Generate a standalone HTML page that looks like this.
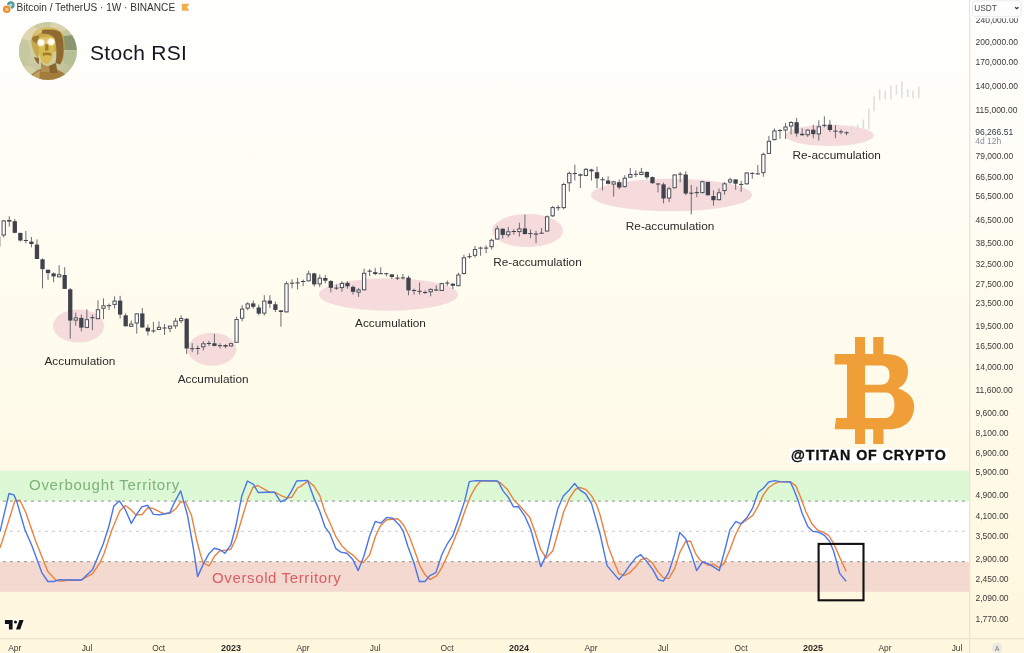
<!DOCTYPE html>
<html><head><meta charset="utf-8">
<style>
html,body{margin:0;padding:0;}
body{width:1024px;height:653px;overflow:hidden;position:relative;
background:linear-gradient(180deg,#fefefd 0px,#fffcef 300px,#fff7de 653px);
font-family:"Liberation Sans",Arial,sans-serif;}
svg{position:absolute;left:0;top:0;will-change:transform;}
.w{stroke:#6a6c73;stroke-width:1;}
.cd{fill:#40434c;}
.cu{fill:#ffffff;stroke:#4d5058;stroke-width:1;}
.px text{font-size:8.5px;fill:#3a3a3a;}
.tx text{font-size:8.4px;fill:#3a3a3a;}
.tx text.yr{font-weight:bold;font-size:9px;fill:#2b2b2b;}
.lbl{font-size:11.8px;fill:#2b2b2b;}
</style></head>
<body>
<svg width="1024" height="653" viewBox="0 0 1024 653">
<defs>
<filter id="soft" x="-10%" y="-10%" width="120%" height="120%"><feGaussianBlur stdDeviation="0.7"/></filter>
<clipPath id="av"><circle cx="47.9" cy="51" r="29"/></clipPath>
<radialGradient id="avbg" cx="0.4" cy="0.4" r="0.7"><stop offset="0" stop-color="#dcd6ae"/><stop offset="1" stop-color="#b9bd93"/></radialGradient>
<radialGradient id="eye"><stop offset="0" stop-color="#ffffff"/><stop offset="0.55" stop-color="#fffef0"/><stop offset="1" stop-color="#fff8c0" stop-opacity="0"/></radialGradient>
</defs>

<!-- stoch rsi bands -->
<rect x="0" y="470.8" width="969" height="30.2" fill="#dcf8d5"/>
<rect x="0" y="501" width="969" height="60.8" fill="#ffffff"/>
<rect x="0" y="561.8" width="969" height="30" fill="#f3d9cf"/>
<g stroke-dasharray="2.9 4.1" stroke-dashoffset="4">
<line x1="0" y1="501.2" x2="969" y2="501.2" stroke="#a4a6a4" stroke-width="1.25"/>
<line x1="0" y1="531.3" x2="969" y2="531.3" stroke="#d4d4d4" stroke-width="1.2"/>
<line x1="0" y1="561.6" x2="969" y2="561.6" stroke="#a4a6a4" stroke-width="1.25"/>
</g>
<text x="29" y="489.6" font-size="15" letter-spacing="0.72" fill="#7fb27a">Overbought Territory</text>
<text x="212" y="582.8" font-size="15" letter-spacing="0.63" fill="#de5c63">Oversold Territory</text>

<!-- ellipses -->
<g fill="#f5d5d8" fill-opacity="0.85">
<ellipse cx="78.5" cy="326" rx="25.5" ry="16.5"/>
<ellipse cx="212" cy="349.3" rx="24.4" ry="16.5"/>
<ellipse cx="388.5" cy="294.5" rx="69.5" ry="16.3"/>
<ellipse cx="527.5" cy="230.6" rx="35.5" ry="16.5"/>
<ellipse cx="671.5" cy="195" rx="80.5" ry="16.3"/>
<ellipse cx="829.6" cy="135.4" rx="44.1" ry="10.7"/>
</g>

<!-- ghost projection -->
<g stroke="#dedede" stroke-width="1.6">
<line x1="851.9" y1="125.8" x2="851.9" y2="135.2"/>
<line x1="857.7" y1="124.7" x2="857.7" y2="130"/>
<line x1="863.3" y1="119.5" x2="863.3" y2="128.1"/>
<line x1="868.8" y1="108.6" x2="868.8" y2="128.9"/>
<line x1="874.1" y1="96.1" x2="874.1" y2="111.3"/>
<line x1="879.7" y1="89.4" x2="879.7" y2="100"/>
<line x1="885.2" y1="90.6" x2="885.2" y2="99.2"/>
<line x1="890.9" y1="85.6" x2="890.9" y2="99.2"/>
<line x1="896.4" y1="84.7" x2="896.4" y2="95"/>
<line x1="901.9" y1="81.6" x2="901.9" y2="97.7"/>
<line x1="907.7" y1="89.1" x2="907.7" y2="96.9"/>
<line x1="913.1" y1="90.6" x2="913.1" y2="98.4"/>
<line x1="918.8" y1="86.7" x2="918.8" y2="98.1"/>
</g>

<!-- candles -->
<g>
<line x1="-1.84" y1="236.0" x2="-1.84" y2="246.4" class="w"/>
<rect x="-3.49" y="236.9" width="3.3" height="9.0" class="cu"/>
<line x1="3.70" y1="219.8" x2="3.70" y2="237.5" class="w"/>
<rect x="2.05" y="220.9" width="3.3" height="14.1" class="cu"/>
<line x1="9.25" y1="216.3" x2="9.25" y2="226.6" class="w"/>
<rect x="7.10" y="220.0" width="4.3" height="1.6" class="cd"/>
<line x1="14.79" y1="219.0" x2="14.79" y2="233.3" class="w"/>
<rect x="12.64" y="221.2" width="4.3" height="11.6" class="cd"/>
<line x1="20.34" y1="232.7" x2="20.34" y2="241.5" class="w"/>
<rect x="18.19" y="232.9" width="4.3" height="7.6" class="cd"/>
<line x1="25.88" y1="230.9" x2="25.88" y2="243.4" class="w"/>
<rect x="23.73" y="240.0" width="4.3" height="1.0" class="cd"/>
<line x1="31.42" y1="237.0" x2="31.42" y2="247.4" class="w"/>
<rect x="29.27" y="241.6" width="4.3" height="2.4" class="cd"/>
<line x1="36.97" y1="239.4" x2="36.97" y2="259.0" class="w"/>
<rect x="34.82" y="244.6" width="4.3" height="14.4" class="cd"/>
<line x1="42.52" y1="258.4" x2="42.52" y2="288.4" class="w"/>
<rect x="40.37" y="259.3" width="4.3" height="9.8" class="cd"/>
<line x1="48.06" y1="269.4" x2="48.06" y2="279.9" class="w"/>
<rect x="45.91" y="269.8" width="4.3" height="3.3" class="cd"/>
<line x1="53.61" y1="272.3" x2="53.61" y2="282.3" class="w"/>
<rect x="51.46" y="273.4" width="4.3" height="3.0" class="cd"/>
<line x1="59.15" y1="265.2" x2="59.15" y2="277.0" class="w"/>
<rect x="57.50" y="274.7" width="3.3" height="2.2" class="cu"/>
<line x1="64.69" y1="267.2" x2="64.69" y2="288.9" class="w"/>
<rect x="62.54" y="275.0" width="4.3" height="13.9" class="cd"/>
<line x1="70.24" y1="288.0" x2="70.24" y2="338.7" class="w"/>
<rect x="68.09" y="289.3" width="4.3" height="31.2" class="cd"/>
<line x1="75.78" y1="312.7" x2="75.78" y2="325.7" class="w"/>
<rect x="74.13" y="317.9" width="3.3" height="2.2" class="cu"/>
<line x1="81.33" y1="314.6" x2="81.33" y2="331.5" class="w"/>
<rect x="79.18" y="317.9" width="4.3" height="9.7" class="cd"/>
<line x1="86.88" y1="309.4" x2="86.88" y2="328.3" class="w"/>
<rect x="85.22" y="319.7" width="3.3" height="7.7" class="cu"/>
<line x1="92.42" y1="314.6" x2="92.42" y2="330.2" class="w"/>
<rect x="90.27" y="317.2" width="4.3" height="1" class="cd"/>
<line x1="97.97" y1="300.3" x2="97.97" y2="319.2" class="w"/>
<rect x="96.31" y="309.7" width="3.3" height="9.0" class="cu"/>
<line x1="103.51" y1="298.4" x2="103.51" y2="319.2" class="w"/>
<rect x="101.86" y="305.8" width="3.3" height="2.5" class="cu"/>
<line x1="109.06" y1="303.6" x2="109.06" y2="310.1" class="w"/>
<rect x="106.91" y="305.2" width="4.3" height="1" class="cd"/>
<line x1="114.60" y1="296.4" x2="114.60" y2="308.4" class="w"/>
<rect x="112.95" y="301.1" width="3.3" height="3.3" class="cu"/>
<line x1="120.14" y1="295.8" x2="120.14" y2="318.5" class="w"/>
<rect x="117.99" y="300.6" width="4.3" height="14.0" class="cd"/>
<line x1="125.69" y1="313.3" x2="125.69" y2="326.3" class="w"/>
<rect x="123.54" y="315.3" width="4.3" height="11.0" class="cd"/>
<line x1="131.23" y1="320.5" x2="131.23" y2="326.5" class="w"/>
<rect x="129.58" y="324.1" width="3.3" height="2.2" class="cu"/>
<line x1="136.78" y1="313.4" x2="136.78" y2="333.6" class="w"/>
<rect x="135.13" y="313.9" width="3.3" height="9.1" class="cu"/>
<line x1="142.32" y1="308.2" x2="142.32" y2="327.5" class="w"/>
<rect x="140.17" y="313.4" width="4.3" height="14.1" class="cd"/>
<line x1="147.87" y1="324.5" x2="147.87" y2="335.5" class="w"/>
<rect x="145.72" y="327.7" width="4.3" height="3.7" class="cd"/>
<line x1="153.41" y1="321.9" x2="153.41" y2="332.9" class="w"/>
<rect x="151.26" y="330.4" width="4.3" height="1" class="cd"/>
<line x1="158.96" y1="321.2" x2="158.96" y2="329.7" class="w"/>
<rect x="157.31" y="327.3" width="3.3" height="2.2" class="cu"/>
<line x1="164.50" y1="324.0" x2="164.50" y2="334.9" class="w"/>
<rect x="162.35" y="327.5" width="4.3" height="1" class="cd"/>
<line x1="170.05" y1="326.4" x2="170.05" y2="332.3" class="w"/>
<rect x="168.40" y="326.1" width="3.3" height="2.2" class="cu"/>
<line x1="175.59" y1="318.0" x2="175.59" y2="328.8" class="w"/>
<rect x="173.94" y="321.1" width="3.3" height="4.8" class="cu"/>
<line x1="181.14" y1="315.4" x2="181.14" y2="323.2" class="w"/>
<rect x="179.49" y="318.5" width="3.3" height="2.2" class="cu"/>
<line x1="186.69" y1="318.0" x2="186.69" y2="354.0" class="w"/>
<rect x="184.53" y="318.8" width="4.3" height="29.7" class="cd"/>
<line x1="192.23" y1="343.3" x2="192.23" y2="352.2" class="w"/>
<rect x="190.08" y="348.2" width="4.3" height="1" class="cd"/>
<line x1="197.78" y1="345.5" x2="197.78" y2="354.6" class="w"/>
<rect x="195.62" y="348.0" width="4.3" height="1" class="cd"/>
<line x1="203.32" y1="341.3" x2="203.32" y2="350.5" class="w"/>
<rect x="201.67" y="343.8" width="3.3" height="3.0" class="cu"/>
<line x1="208.87" y1="340.8" x2="208.87" y2="345.9" class="w"/>
<rect x="206.72" y="343.0" width="4.3" height="1" class="cd"/>
<line x1="214.41" y1="334.0" x2="214.41" y2="346.3" class="w"/>
<rect x="212.26" y="343.3" width="4.3" height="2.6" class="cd"/>
<line x1="219.96" y1="343.3" x2="219.96" y2="348.5" class="w"/>
<rect x="217.81" y="345.2" width="4.3" height="1" class="cd"/>
<line x1="225.50" y1="344.3" x2="225.50" y2="348.2" class="w"/>
<rect x="223.35" y="345.1" width="4.3" height="1.5" class="cd"/>
<line x1="231.04" y1="342.8" x2="231.04" y2="346.5" class="w"/>
<rect x="229.39" y="343.7" width="3.3" height="2.2" class="cu"/>
<line x1="236.59" y1="316.7" x2="236.59" y2="342.8" class="w"/>
<rect x="234.94" y="319.5" width="3.3" height="22.8" class="cu"/>
<line x1="242.13" y1="305.2" x2="242.13" y2="321.3" class="w"/>
<rect x="240.48" y="309.1" width="3.3" height="9.1" class="cu"/>
<line x1="247.68" y1="302.2" x2="247.68" y2="310.2" class="w"/>
<rect x="246.03" y="303.9" width="3.3" height="4.2" class="cu"/>
<line x1="253.22" y1="300.5" x2="253.22" y2="308.8" class="w"/>
<rect x="251.07" y="303.4" width="4.3" height="3.4" class="cd"/>
<line x1="258.77" y1="304.6" x2="258.77" y2="315.3" class="w"/>
<rect x="256.62" y="307.5" width="4.3" height="6.1" class="cd"/>
<line x1="264.31" y1="295.2" x2="264.31" y2="315.7" class="w"/>
<rect x="262.66" y="301.1" width="3.3" height="12.0" class="cu"/>
<line x1="269.86" y1="295.2" x2="269.86" y2="307.9" class="w"/>
<rect x="267.71" y="300.6" width="4.3" height="3.2" class="cd"/>
<line x1="275.40" y1="301.6" x2="275.40" y2="312.0" class="w"/>
<rect x="273.25" y="304.3" width="4.3" height="5.6" class="cd"/>
<line x1="280.95" y1="310.1" x2="280.95" y2="326.7" class="w"/>
<rect x="278.80" y="310.4" width="4.3" height="1.6" class="cd"/>
<line x1="286.49" y1="281.3" x2="286.49" y2="312.4" class="w"/>
<rect x="284.84" y="283.7" width="3.3" height="28.2" class="cu"/>
<line x1="292.04" y1="279.3" x2="292.04" y2="288.3" class="w"/>
<rect x="289.89" y="282.7" width="4.3" height="1" class="cd"/>
<line x1="297.58" y1="278.0" x2="297.58" y2="289.6" class="w"/>
<rect x="295.44" y="282.4" width="4.3" height="1" class="cd"/>
<line x1="303.13" y1="279.5" x2="303.13" y2="286.2" class="w"/>
<rect x="300.98" y="281.0" width="4.3" height="1" class="cd"/>
<line x1="308.67" y1="270.7" x2="308.67" y2="281.3" class="w"/>
<rect x="307.02" y="273.9" width="3.3" height="6.9" class="cu"/>
<line x1="314.22" y1="272.8" x2="314.22" y2="286.6" class="w"/>
<rect x="312.07" y="273.4" width="4.3" height="11.0" class="cd"/>
<line x1="319.76" y1="274.6" x2="319.76" y2="287.1" class="w"/>
<rect x="318.12" y="278.2" width="3.3" height="5.7" class="cu"/>
<line x1="325.31" y1="275.2" x2="325.31" y2="283.4" class="w"/>
<rect x="323.16" y="278.0" width="4.3" height="2.7" class="cd"/>
<line x1="330.85" y1="280.1" x2="330.85" y2="292.4" class="w"/>
<rect x="328.70" y="281.0" width="4.3" height="6.8" class="cd"/>
<line x1="336.40" y1="284.4" x2="336.40" y2="289.9" class="w"/>
<rect x="334.25" y="287.6" width="4.3" height="1" class="cd"/>
<line x1="341.94" y1="281.3" x2="341.94" y2="291.8" class="w"/>
<rect x="340.30" y="283.4" width="3.3" height="4.2" class="cu"/>
<line x1="347.49" y1="281.3" x2="347.49" y2="288.7" class="w"/>
<rect x="345.34" y="282.9" width="4.3" height="3.4" class="cd"/>
<line x1="353.03" y1="285.4" x2="353.03" y2="294.5" class="w"/>
<rect x="350.88" y="286.9" width="4.3" height="4.9" class="cd"/>
<line x1="358.58" y1="288.1" x2="358.58" y2="296.9" class="w"/>
<rect x="356.93" y="290.0" width="3.3" height="2.2" class="cu"/>
<line x1="364.12" y1="268.7" x2="364.12" y2="290.3" class="w"/>
<rect x="362.47" y="273.3" width="3.3" height="16.5" class="cu"/>
<line x1="369.67" y1="269.1" x2="369.67" y2="276.1" class="w"/>
<rect x="367.52" y="270.7" width="4.3" height="1" class="cd"/>
<line x1="375.21" y1="267.9" x2="375.21" y2="275.2" class="w"/>
<rect x="373.06" y="272.2" width="4.3" height="1.8" class="cd"/>
<line x1="380.76" y1="267.3" x2="380.76" y2="274.0" class="w"/>
<rect x="378.61" y="273.2" width="4.3" height="1" class="cd"/>
<line x1="386.30" y1="272.8" x2="386.30" y2="276.4" class="w"/>
<rect x="384.15" y="273.2" width="4.3" height="1" class="cd"/>
<line x1="391.85" y1="274.0" x2="391.85" y2="278.9" class="w"/>
<rect x="389.70" y="274.4" width="4.3" height="2.6" class="cd"/>
<line x1="397.39" y1="274.5" x2="397.39" y2="280.0" class="w"/>
<rect x="395.25" y="277.6" width="4.3" height="1" class="cd"/>
<line x1="402.94" y1="273.9" x2="402.94" y2="279.4" class="w"/>
<rect x="400.79" y="277.4" width="4.3" height="1" class="cd"/>
<line x1="408.48" y1="275.7" x2="408.48" y2="295.3" class="w"/>
<rect x="406.33" y="277.6" width="4.3" height="12.8" class="cd"/>
<line x1="414.03" y1="288.6" x2="414.03" y2="294.7" class="w"/>
<rect x="411.88" y="290.0" width="4.3" height="1" class="cd"/>
<line x1="419.57" y1="282.5" x2="419.57" y2="294.7" class="w"/>
<rect x="417.43" y="290.8" width="4.3" height="1" class="cd"/>
<line x1="425.12" y1="290.4" x2="425.12" y2="294.1" class="w"/>
<rect x="422.97" y="292.0" width="4.3" height="1" class="cd"/>
<line x1="430.66" y1="288.2" x2="430.66" y2="296.3" class="w"/>
<rect x="429.01" y="289.5" width="3.3" height="2.2" class="cu"/>
<line x1="436.21" y1="285.5" x2="436.21" y2="290.7" class="w"/>
<rect x="434.06" y="289.5" width="4.3" height="1.1" class="cd"/>
<line x1="441.75" y1="282.8" x2="441.75" y2="291.0" class="w"/>
<rect x="440.11" y="283.6" width="3.3" height="6.9" class="cu"/>
<line x1="447.30" y1="280.6" x2="447.30" y2="285.8" class="w"/>
<rect x="445.15" y="282.6" width="4.3" height="1" class="cd"/>
<line x1="452.84" y1="283.1" x2="452.84" y2="289.0" class="w"/>
<rect x="450.69" y="283.7" width="4.3" height="2.1" class="cd"/>
<line x1="458.39" y1="272.7" x2="458.39" y2="286.2" class="w"/>
<rect x="456.74" y="275.0" width="3.3" height="10.7" class="cu"/>
<line x1="463.93" y1="254.7" x2="463.93" y2="274.3" class="w"/>
<rect x="462.28" y="257.8" width="3.3" height="15.7" class="cu"/>
<line x1="469.48" y1="253.3" x2="469.48" y2="258.6" class="w"/>
<rect x="467.33" y="256.2" width="4.3" height="1" class="cd"/>
<line x1="475.02" y1="246.0" x2="475.02" y2="257.6" class="w"/>
<rect x="473.38" y="249.5" width="3.3" height="5.8" class="cu"/>
<line x1="480.57" y1="246.6" x2="480.57" y2="255.8" class="w"/>
<rect x="478.42" y="247.6" width="4.3" height="1" class="cd"/>
<line x1="486.11" y1="245.3" x2="486.11" y2="253.3" class="w"/>
<rect x="483.96" y="247.6" width="4.3" height="1" class="cd"/>
<line x1="491.66" y1="238.6" x2="491.66" y2="249.6" class="w"/>
<rect x="490.01" y="240.3" width="3.3" height="6.4" class="cu"/>
<line x1="497.20" y1="225.7" x2="497.20" y2="239.5" class="w"/>
<rect x="495.56" y="228.9" width="3.3" height="10.1" class="cu"/>
<line x1="502.75" y1="228.2" x2="502.75" y2="238.6" class="w"/>
<rect x="500.60" y="228.8" width="4.3" height="6.1" class="cd"/>
<line x1="508.29" y1="227.0" x2="508.29" y2="237.4" class="w"/>
<rect x="506.64" y="231.8" width="3.3" height="3.0" class="cu"/>
<line x1="513.84" y1="229.2" x2="513.84" y2="234.6" class="w"/>
<rect x="511.69" y="231.0" width="4.3" height="1.0" class="cd"/>
<line x1="519.38" y1="222.7" x2="519.38" y2="236.5" class="w"/>
<rect x="517.74" y="228.9" width="3.3" height="2.7" class="cu"/>
<line x1="524.93" y1="214.7" x2="524.93" y2="234.3" class="w"/>
<rect x="522.78" y="228.4" width="4.3" height="5.7" class="cd"/>
<line x1="530.47" y1="229.4" x2="530.47" y2="238.2" class="w"/>
<rect x="528.32" y="233.1" width="4.3" height="1" class="cd"/>
<line x1="536.02" y1="230.8" x2="536.02" y2="243.2" class="w"/>
<rect x="533.87" y="233.6" width="4.3" height="1.1" class="cd"/>
<line x1="541.56" y1="228.0" x2="541.56" y2="233.8" class="w"/>
<rect x="539.41" y="232.7" width="4.3" height="1" class="cd"/>
<line x1="547.11" y1="215.5" x2="547.11" y2="231.5" class="w"/>
<rect x="545.46" y="216.8" width="3.3" height="14.2" class="cu"/>
<line x1="552.65" y1="206.0" x2="552.65" y2="217.0" class="w"/>
<rect x="551.00" y="207.6" width="3.3" height="8.2" class="cu"/>
<line x1="558.20" y1="205.3" x2="558.20" y2="210.8" class="w"/>
<rect x="556.05" y="207.2" width="4.3" height="1" class="cd"/>
<line x1="563.75" y1="182.6" x2="563.75" y2="209.4" class="w"/>
<rect x="562.10" y="184.5" width="3.3" height="23.1" class="cu"/>
<line x1="569.29" y1="171.5" x2="569.29" y2="191.5" class="w"/>
<rect x="567.64" y="173.4" width="3.3" height="9.4" class="cu"/>
<line x1="574.83" y1="164.6" x2="574.83" y2="180.5" class="w"/>
<rect x="572.68" y="173.0" width="4.3" height="1" class="cd"/>
<line x1="580.38" y1="173.6" x2="580.38" y2="188.1" class="w"/>
<rect x="578.23" y="174.3" width="4.3" height="1.4" class="cd"/>
<line x1="585.92" y1="168.2" x2="585.92" y2="176.3" class="w"/>
<rect x="584.27" y="169.3" width="3.3" height="6.2" class="cu"/>
<line x1="591.47" y1="168.8" x2="591.47" y2="180.5" class="w"/>
<rect x="589.32" y="169.5" width="4.3" height="1.8" class="cd"/>
<line x1="597.01" y1="166.7" x2="597.01" y2="188.1" class="w"/>
<rect x="594.87" y="172.2" width="4.3" height="6.2" class="cd"/>
<line x1="602.56" y1="177.1" x2="602.56" y2="190.5" class="w"/>
<rect x="600.41" y="179.2" width="4.3" height="1" class="cd"/>
<line x1="608.11" y1="176.4" x2="608.11" y2="184.4" class="w"/>
<rect x="605.96" y="180.5" width="4.3" height="3.3" class="cd"/>
<line x1="613.65" y1="180.7" x2="613.65" y2="196.7" class="w"/>
<rect x="612.00" y="181.9" width="3.3" height="2.2" class="cu"/>
<line x1="619.19" y1="179.5" x2="619.19" y2="189.3" class="w"/>
<rect x="617.04" y="182.2" width="4.3" height="5.3" class="cd"/>
<line x1="624.74" y1="175.2" x2="624.74" y2="187.5" class="w"/>
<rect x="623.09" y="178.2" width="3.3" height="8.4" class="cu"/>
<line x1="630.28" y1="167.9" x2="630.28" y2="178.0" class="w"/>
<rect x="628.63" y="174.5" width="3.3" height="2.7" class="cu"/>
<line x1="635.83" y1="170.3" x2="635.83" y2="177.1" class="w"/>
<rect x="633.68" y="173.8" width="4.3" height="1" class="cd"/>
<line x1="641.38" y1="167.9" x2="641.38" y2="175.2" class="w"/>
<rect x="639.73" y="172.3" width="3.3" height="2.2" class="cu"/>
<line x1="646.92" y1="171.5" x2="646.92" y2="178.9" class="w"/>
<rect x="644.77" y="171.9" width="4.3" height="5.4" class="cd"/>
<line x1="652.46" y1="176.5" x2="652.46" y2="183.8" class="w"/>
<rect x="650.31" y="177.1" width="4.3" height="6.1" class="cd"/>
<line x1="658.01" y1="183.2" x2="658.01" y2="192.4" class="w"/>
<rect x="655.86" y="183.5" width="4.3" height="1" class="cd"/>
<line x1="663.55" y1="182.6" x2="663.55" y2="203.4" class="w"/>
<rect x="661.40" y="184.4" width="4.3" height="14.1" class="cd"/>
<line x1="669.10" y1="186.8" x2="669.10" y2="202.2" class="w"/>
<rect x="667.45" y="188.8" width="3.3" height="9.2" class="cu"/>
<line x1="674.64" y1="174.0" x2="674.64" y2="188.5" class="w"/>
<rect x="673.00" y="175.0" width="3.3" height="12.7" class="cu"/>
<line x1="680.19" y1="172.1" x2="680.19" y2="182.5" class="w"/>
<rect x="678.04" y="173.7" width="4.3" height="1" class="cd"/>
<line x1="685.74" y1="171.4" x2="685.74" y2="195.3" class="w"/>
<rect x="683.59" y="174.5" width="4.3" height="19.0" class="cd"/>
<line x1="691.28" y1="184.9" x2="691.28" y2="214.3" class="w"/>
<rect x="689.13" y="192.7" width="4.3" height="1" class="cd"/>
<line x1="696.82" y1="186.8" x2="696.82" y2="197.2" class="w"/>
<rect x="694.67" y="192.1" width="4.3" height="1" class="cd"/>
<line x1="702.37" y1="180.7" x2="702.37" y2="193.4" class="w"/>
<rect x="700.72" y="181.8" width="3.3" height="10.8" class="cu"/>
<line x1="707.91" y1="181.9" x2="707.91" y2="195.3" class="w"/>
<rect x="705.76" y="181.9" width="4.3" height="13.4" class="cd"/>
<line x1="713.46" y1="190.4" x2="713.46" y2="205.8" class="w"/>
<rect x="711.31" y="196.0" width="4.3" height="4.2" class="cd"/>
<line x1="719.00" y1="188.6" x2="719.00" y2="200.4" class="w"/>
<rect x="717.36" y="192.8" width="3.3" height="6.9" class="cu"/>
<line x1="724.55" y1="182.1" x2="724.55" y2="194.7" class="w"/>
<rect x="722.90" y="183.8" width="3.3" height="6.8" class="cu"/>
<line x1="730.09" y1="177.6" x2="730.09" y2="183.7" class="w"/>
<rect x="728.44" y="179.8" width="3.3" height="2.2" class="cu"/>
<line x1="735.64" y1="179.4" x2="735.64" y2="189.8" class="w"/>
<rect x="733.49" y="179.4" width="4.3" height="4.3" class="cd"/>
<line x1="741.18" y1="180.8" x2="741.18" y2="191.8" class="w"/>
<rect x="739.03" y="183.9" width="4.3" height="1" class="cd"/>
<line x1="746.73" y1="172.2" x2="746.73" y2="184.6" class="w"/>
<rect x="745.08" y="173.0" width="3.3" height="10.8" class="cu"/>
<line x1="752.27" y1="172.3" x2="752.27" y2="178.7" class="w"/>
<rect x="750.12" y="172.9" width="4.3" height="1.0" class="cd"/>
<line x1="757.82" y1="165.0" x2="757.82" y2="174.6" class="w"/>
<rect x="755.67" y="173.4" width="4.3" height="1" class="cd"/>
<line x1="763.37" y1="152.6" x2="763.37" y2="176.7" class="w"/>
<rect x="761.72" y="154.4" width="3.3" height="18.3" class="cu"/>
<line x1="768.91" y1="136.0" x2="768.91" y2="153.9" class="w"/>
<rect x="767.26" y="141.3" width="3.3" height="12.1" class="cu"/>
<line x1="774.45" y1="128.4" x2="774.45" y2="140.6" class="w"/>
<rect x="772.80" y="131.0" width="3.3" height="8.6" class="cu"/>
<line x1="780.00" y1="129.1" x2="780.00" y2="138.8" class="w"/>
<rect x="777.85" y="130.0" width="4.3" height="1.0" class="cd"/>
<line x1="785.54" y1="123.0" x2="785.54" y2="139.0" class="w"/>
<rect x="783.89" y="127.0" width="3.3" height="3.0" class="cu"/>
<line x1="791.09" y1="121.3" x2="791.09" y2="134.5" class="w"/>
<rect x="789.44" y="122.5" width="3.3" height="3.5" class="cu"/>
<line x1="796.63" y1="117.8" x2="796.63" y2="136.7" class="w"/>
<rect x="794.49" y="122.2" width="4.3" height="11.3" class="cd"/>
<line x1="802.18" y1="128.3" x2="802.18" y2="135.8" class="w"/>
<rect x="800.03" y="133.8" width="4.3" height="1.4" class="cd"/>
<line x1="807.72" y1="129.4" x2="807.72" y2="137.0" class="w"/>
<rect x="806.07" y="130.1" width="3.3" height="4.6" class="cu"/>
<line x1="813.27" y1="124.8" x2="813.27" y2="138.2" class="w"/>
<rect x="811.12" y="129.7" width="4.3" height="4.4" class="cd"/>
<line x1="818.81" y1="120.3" x2="818.81" y2="140.6" class="w"/>
<rect x="817.16" y="126.8" width="3.3" height="7.1" class="cu"/>
<line x1="824.36" y1="116.4" x2="824.36" y2="127.3" class="w"/>
<rect x="822.21" y="124.8" width="4.3" height="1" class="cd"/>
<line x1="829.90" y1="120.3" x2="829.90" y2="132.0" class="w"/>
<rect x="827.75" y="124.7" width="4.3" height="5.3" class="cd"/>
<line x1="835.45" y1="125.0" x2="835.45" y2="138.3" class="w"/>
<rect x="833.30" y="130.7" width="4.3" height="1" class="cd"/>
<line x1="841.00" y1="129.4" x2="841.00" y2="134.4" class="w"/>
<rect x="838.85" y="131.4" width="4.3" height="1" class="cd"/>
<line x1="846.54" y1="131.3" x2="846.54" y2="135.2" class="w"/>
<rect x="844.39" y="132.3" width="4.3" height="1" class="cd"/>
</g>

<!-- labels -->
<g class="lbl">
<text x="44.5" y="365.4">Accumulation</text>
<text x="177.7" y="383.3">Accumulation</text>
<text x="355.1" y="327.1">Accumulation</text>
<text x="493.2" y="265.9">Re-accumulation</text>
<text x="625.8" y="230.3">Re-accumulation</text>
<text x="792.4" y="159.1">Re-accumulation</text>
</g>

<!-- stoch lines -->
<polyline points="0,547.7 4,535.7 14.9,500.9 19.9,500.3 25.9,512.8 35.9,541.7 47.8,571.6 55.8,580 59.8,581.2 69.7,580 80.7,580.2 92.6,573.6 100,562.6 104,553.7 112,529.8 119.9,510.8 125.5,505.5 130.9,509.8 135.9,514.8 141.8,514.8 147.8,507.8 152.8,508.4 159.8,511.8 164.7,513.8 169.7,513.4 175.7,508.8 180.7,501.9 185.7,502.3 191.6,515.8 196.6,539.7 200,552.7 203,562.6 209,566 214.9,555.7 219.9,550.7 225.9,550.3 230.9,549.1 235.9,538.7 241.8,518.8 247.8,498.9 252.8,487.5 257.8,485.5 263.7,488.9 269.7,492.3 275.7,492.5 281.7,495.9 286.7,497.9 291.6,497.3 297.6,487.9 300,486.9 308,481 313.9,485.9 319.9,495.9 324.9,511.8 329.9,522.8 335.9,536.7 341.8,545.7 347.8,551.7 353.8,555.7 358.8,561.2 363.3,562.6 369.7,554.7 375.7,535.7 380.7,525.4 386.7,519.8 392.6,519.2 397.6,518.8 400,520.8 404,525.8 409,535.7 413.9,548.7 419.9,565.6 424.9,574.6 429.9,579.6 436.9,575.6 441.8,567.6 447.8,554.7 453.8,540.7 459.8,525.8 465.7,508.8 470.7,495.9 475.7,486.9 480.7,481 495.6,481 500,482.4 507,488.9 513.9,499.9 519.9,505.9 524.9,511.8 529.9,517.8 534.9,531.8 540.8,549.7 546.2,558 552.8,550.7 558.8,529.8 563.7,511.8 569.7,497.9 575.3,489.5 579.7,487.5 585.7,489.3 591.6,495.9 596.6,504.9 600,514.8 608,545.7 613.9,561.6 618.9,573.6 623.9,575.6 629.9,572.6 635.9,566.6 640.8,559.6 646.2,558 652.2,562.6 657.8,571.6 663.3,577.6 668.7,578.6 674.7,568.6 679.7,552.7 685.7,541.3 690.6,541.3 695.6,553.7 700,560 704,562.6 708,565.2 713,564.2 719.3,567.6 723.9,563.6 729.9,549.7 735.9,533.7 740.8,524.2 746.8,519.8 752.8,515.4 758.2,505.9 763.3,494.9 768.7,487.5 774.7,483.5 779.7,481.6 791,482 795.9,485.9 800.9,497.9 805.9,511.8 811.9,523.8 817.8,530.2 823.8,532.7 828.8,535.7 833.8,543.7 839.8,557.6 846.1,571.2" fill="none" stroke="#ec8240" stroke-width="1.4" stroke-linejoin="round"/>
<polyline points="0,531.7 9,493.5 13.9,494.9 16.9,501.9 24.9,529.8 31.9,545.7 41.8,572.6 47.8,581.5 53.8,581.5 59.8,579.6 69.7,580 81.7,580 92.6,569.6 103.3,543.7 109,525.8 113.9,505.9 119.3,500.9 124.9,508.8 131.3,523.4 136.9,513.8 141.8,506.9 147.8,505.3 153.4,514.4 159.8,514.8 169.7,512.8 174.7,501.9 180.7,490.9 187.6,515.8 193.6,549.7 197.6,576.6 204,562.6 209,553.7 214.3,548.3 219.9,549.7 224.9,553.3 230.9,544.7 235.9,525.8 241.8,495.9 247.4,481 253.4,484.3 258.2,492.5 267.7,492.3 274.7,492.3 280.7,501.9 286.7,498.9 291.6,490.9 296.6,481 307.6,480.4 313.9,497.9 319.9,511.8 324.9,526.8 329.9,533.7 335.9,548.7 340.8,552.1 346.8,553.3 352.8,559.6 358.2,570.6 363.7,556.7 369.7,535.7 375.3,521.4 380.7,523.2 386.7,517.4 392.6,518.2 400,525.8 403,530.8 408,546.7 413.9,562.6 419.3,581.5 424.9,581.5 429.9,575.6 435.9,572.6 441.8,554.7 446.8,544.7 452.8,535.7 458.8,518.8 464.7,500.9 469.3,481.6 475.7,480.6 497.6,481 500,484.9 503,490.9 508,496.9 513.5,506.9 518.3,506.5 524.9,516.2 530.9,529.8 535.9,548.7 540.8,566.6 546.8,553.7 551.8,532.7 557.8,508.8 563.3,495.9 569.3,489.9 574.7,483.5 579.7,489.9 585.7,493.9 591.6,503.9 600,533.7 607,565.6 618.9,579.6 624.9,572.6 629.9,565.2 635.9,557.6 640.8,554.7 646.8,561.6 652.8,569.6 658.2,579.6 663.3,581.2 668.7,572.6 674.7,553.7 679.7,532.4 685.7,538.7 691.6,554.7 696.6,570.6 702.4,562 708,563.6 713.9,567.2 719.3,570.6 724.9,549.7 729.9,529.8 735.9,521.4 740.8,523.8 746.8,517.8 752.8,507.8 758.2,492.3 763.3,488.3 768.7,482 774.7,480.6 779.7,481.6 790.3,482 794,489.9 797.9,499.9 801.9,512.8 807.9,526.8 812.9,531.4 818.8,532.2 824.8,535.7 829.8,541.7 833.8,551.7 839.8,573.6 846.1,581.2" fill="none" stroke="#4a76ea" stroke-width="1.4" stroke-linejoin="round"/>

<!-- black box -->
<rect x="818.6" y="543.9" width="44.9" height="56.4" fill="none" stroke="#111" stroke-width="2.1"/>

<!-- bitcoin logo -->
<g fill="#f09e38">
<rect x="855" y="337" width="10" height="19"/>
<rect x="873.2" y="337" width="10.3" height="19"/>
<rect x="855" y="427" width="10" height="17"/>
<rect x="873.2" y="427" width="10.3" height="17"/>
<path fill-rule="evenodd" d="M834.6 354 L884 354 C900 354 908 360 908 371 C908 380 904 385.5 898 388.3 C907 391.5 914.2 397.5 914.2 406 C914.2 420 905 429.3 889 429.3 L834.6 429.3 L836 418 L847 418 L847 364.5 L834.6 364.5 Z M865 365.5 L881 365.5 C886.5 365.5 889.5 369 889.5 375 C889.5 381 886.5 384.8 881 384.8 L865 384.8 Z M865 392.5 L886 392.5 C891.5 392.5 894.5 397.5 894.5 405 C894.5 412.5 891 418 885.5 418 L865 418 Z"/>
</g>
<rect x="789.8" y="448" width="157.2" height="15" fill="#ffffff" fill-opacity="0.9"/>
<text x="791" y="460.3" font-size="14.2" font-weight="bold" letter-spacing="0.95" fill="#111" stroke="#111" stroke-width="0.35">@TITAN OF CRYPTO</text>

<!-- header -->
<circle cx="10.8" cy="5" r="3.8" fill="#4d9d97"/>
<circle cx="10.8" cy="5" r="1.6" fill="#b9d6e6"/>
<circle cx="6.7" cy="9.2" r="4.5" fill="#fdfdfc"/>
<circle cx="6.7" cy="9.2" r="3.8" fill="#f08f30"/>
<circle cx="6.9" cy="9.4" r="1.6" fill="#f7c79a"/>
<text x="16.6" y="11.1" font-size="10.1" fill="#333333">Bitcoin / TetherUS · 1W · BINANCE</text>
<path d="M181.8 3.8 L189.4 3.8 L187 7.25 L189.4 10.7 L181.8 10.7 Z" fill="#f2ad4c"/>

<!-- avatar -->
<g clip-path="url(#av)">
<rect x="18" y="21" width="60" height="60" fill="url(#avbg)"/>
<g filter="url(#soft)">
<ellipse cx="29" cy="33" rx="10" ry="7" fill="#e2d8b4" opacity="0.9"/>
<ellipse cx="60" cy="26" rx="10" ry="5" fill="#e0d6b2" opacity="0.8"/>
<ellipse cx="24" cy="52" rx="6" ry="11" fill="#c5c8a0" opacity="0.9"/>
<ellipse cx="27" cy="71" rx="8" ry="5" fill="#d9d2ac" opacity="0.85"/>
<path d="M62 36 L77 35 L77 50 L63 50 Z" fill="#8b9570"/>
<ellipse cx="71" cy="58" rx="8" ry="8" fill="#b3bf96" opacity="0.9"/>
<path d="M31.5 44 C30.5 36 35 29.5 43 28 C51 26.5 59 28.5 62.5 34 C65 39 65 48 64 56 C63.5 60 62 63 59 65 L56 52 L41 48 L38 58 C35 55 32.5 50 31.5 44 Z" fill="#c7a84e"/>
<path d="M35 31 C40 27.5 48 26.8 55 28 C50 29 44 30 40 33 C37 35 34.5 37 33 40 Z" fill="#dcc26a"/>
<path d="M42 30 C47 29 54 29.5 60 32 C62.5 35 63.5 40 63.5 46 C64 53 63 60 60 64.5 L55.5 63 C57 55 57 46 54.5 38 C51 34 46 33 42 34 Z" fill="#8e6b31"/>
<path d="M31.7 39 C33 36 36 35 39 35.5 L38 44 C35.5 43 33 42 31.7 39 Z" fill="#9c7836"/>
<path d="M38.2 41 C38.2 37.5 42 36.3 47 36.3 C51.5 36.3 54.6 38 54.6 43 C54.6 52 52.5 61 47 64.5 C41.5 63.5 38.2 55 38.2 41 Z" fill="#d8bb4f"/>
<ellipse cx="46" cy="41" rx="6" ry="3" fill="#e2c584" opacity="0.7"/>
<path d="M45.3 44.2 L48.2 44.2 L48.6 50.4 L45 50.4 Z" fill="#93702f" opacity="0.85"/>
<path d="M42.7 53 C45 52.2 49 52.2 51.3 53.2 L51 55.9 C48.5 54.8 45.5 54.8 43 55.9 Z" fill="#93702f" opacity="0.85"/>
<path d="M34 57 C35.5 61 37 63 38.8 64.5 L39 58 Z" fill="#8e6b31"/>
<path d="M26 82 C29 75 35 71 41 69 L47 68 L55 69 C62 71 68 75 72 82 Z" fill="#a27d3e"/>
<path d="M41 62 C44 67 50 67 54 63 L56 72 L41 72 Z" fill="#b48f52"/>
<path d="M49 66 L56 63 L57.5 73 L50 73 Z" fill="#8a6530"/>
<path d="M30 80 C32 75 36 72 40 71 L39 81 Z" fill="#c4a268" opacity="0.9"/>
<circle cx="40.9" cy="42.6" r="4.6" fill="url(#eye)"/>
<circle cx="51.2" cy="41.8" r="4.6" fill="url(#eye)"/>
</g>
</g>
<text x="90" y="59.5" font-size="21" letter-spacing="0.3" fill="#131722">Stoch RSI</text>

<!-- axes -->
<line x1="969.7" y1="0" x2="969.7" y2="653" stroke="#e9e4d0" stroke-width="1.3"/>
<line x1="0" y1="638.7" x2="1024" y2="638.7" stroke="#ebe5cf" stroke-width="1.3"/>
<g class="px">
<text x="975.5" y="45.0">200,000.00</text>
<text x="975.5" y="65.2">170,000.00</text>
<text x="975.5" y="88.7">140,000.00</text>
<text x="975.5" y="112.7">115,000.00</text>
<text x="975.5" y="158.7">79,000.00</text>
<text x="975.5" y="179.7">66,500.00</text>
<text x="975.5" y="199.3">56,500.00</text>
<text x="975.5" y="223.1">46,500.00</text>
<text x="975.5" y="246.0">38,500.00</text>
<text x="975.5" y="266.7">32,500.00</text>
<text x="975.5" y="287.0">27,500.00</text>
<text x="975.5" y="306.2">23,500.00</text>
<text x="975.5" y="329.2">19,500.00</text>
<text x="975.5" y="349.3">16,500.00</text>
<text x="975.5" y="369.6">14,000.00</text>
<text x="975.5" y="392.7">11,600.00</text>
<text x="975.5" y="415.7">9,600.00</text>
<text x="975.5" y="436.0">8,100.00</text>
<text x="975.5" y="455.7">6,900.00</text>
<text x="975.5" y="474.7">5,900.00</text>
<text x="975.5" y="497.7">4,900.00</text>
<text x="975.5" y="519.4">4,100.00</text>
<text x="975.5" y="538.7">3,500.00</text>
<text x="975.5" y="561.5">2,900.00</text>
<text x="975.5" y="582.1">2,450.00</text>
<text x="975.5" y="601.2">2,090.00</text>
<text x="975.5" y="621.7">1,770.00</text>
</g>
<text x="975.8" y="23" font-size="8.5" fill="#363a45">240,000.00</text>
<rect x="970" y="0" width="54" height="18.3" fill="#fefefd"/>
<rect x="972.3" y="0.8" width="49" height="15.6" rx="2.5" fill="#fefefe" stroke="#e6e6e6" stroke-width="0.8"/>
<text x="974.3" y="11.1" font-size="8.3" fill="#4a4a4a">USDT</text>
<path d="M1015.1 7.2 L1016.8 8.8 L1018.5 7.2" fill="none" stroke="#333" stroke-width="1.2"/>
<rect x="973.8" y="126.8" width="42.9" height="19.9" fill="#fdfdfa"/>
<text x="975.3" y="135.2" font-size="8.5" fill="#363a45">96,266.51</text>
<text x="975.3" y="143.7" font-size="8.5" fill="#8b8e96">4d 12h</text>
<g class="tx">
<text x="14.7" y="650.5" text-anchor="middle">Apr</text>
<text x="87" y="650.5" text-anchor="middle">Jul</text>
<text x="158.7" y="650.5" text-anchor="middle">Oct</text>
<text x="231" y="650.5" text-anchor="middle" class="yr">2023</text>
<text x="303" y="650.5" text-anchor="middle">Apr</text>
<text x="375.2" y="650.5" text-anchor="middle">Jul</text>
<text x="447" y="650.5" text-anchor="middle">Oct</text>
<text x="519" y="650.5" text-anchor="middle" class="yr">2024</text>
<text x="591" y="650.5" text-anchor="middle">Apr</text>
<text x="663" y="650.5" text-anchor="middle">Jul</text>
<text x="741" y="650.5" text-anchor="middle">Oct</text>
<text x="813" y="650.5" text-anchor="middle" class="yr">2025</text>
<text x="885" y="650.5" text-anchor="middle">Apr</text>
<text x="957" y="650.5" text-anchor="middle">Jul</text>
</g>
<circle cx="997.2" cy="648" r="5.4" fill="#ebe9e2"/>
<text x="997.2" y="650.6" font-size="6.5" text-anchor="middle" fill="#777">A</text>

<!-- TV logo -->
<g fill="#111" stroke="#ffffff" stroke-width="1.6" stroke-opacity="0.85" paint-order="stroke" stroke-linejoin="round">
<path d="M4.9 620.1 L12.6 620.1 L12.6 629.6 L8.9 629.6 L8.9 623.9 L4.9 623.9 Z"/>
<circle cx="15.5" cy="621.9" r="1.5"/>
<path d="M19.4 620.1 L23.6 620.1 L20.2 629.6 L16 629.6 Z"/>
</g>
</svg>
</body></html>
